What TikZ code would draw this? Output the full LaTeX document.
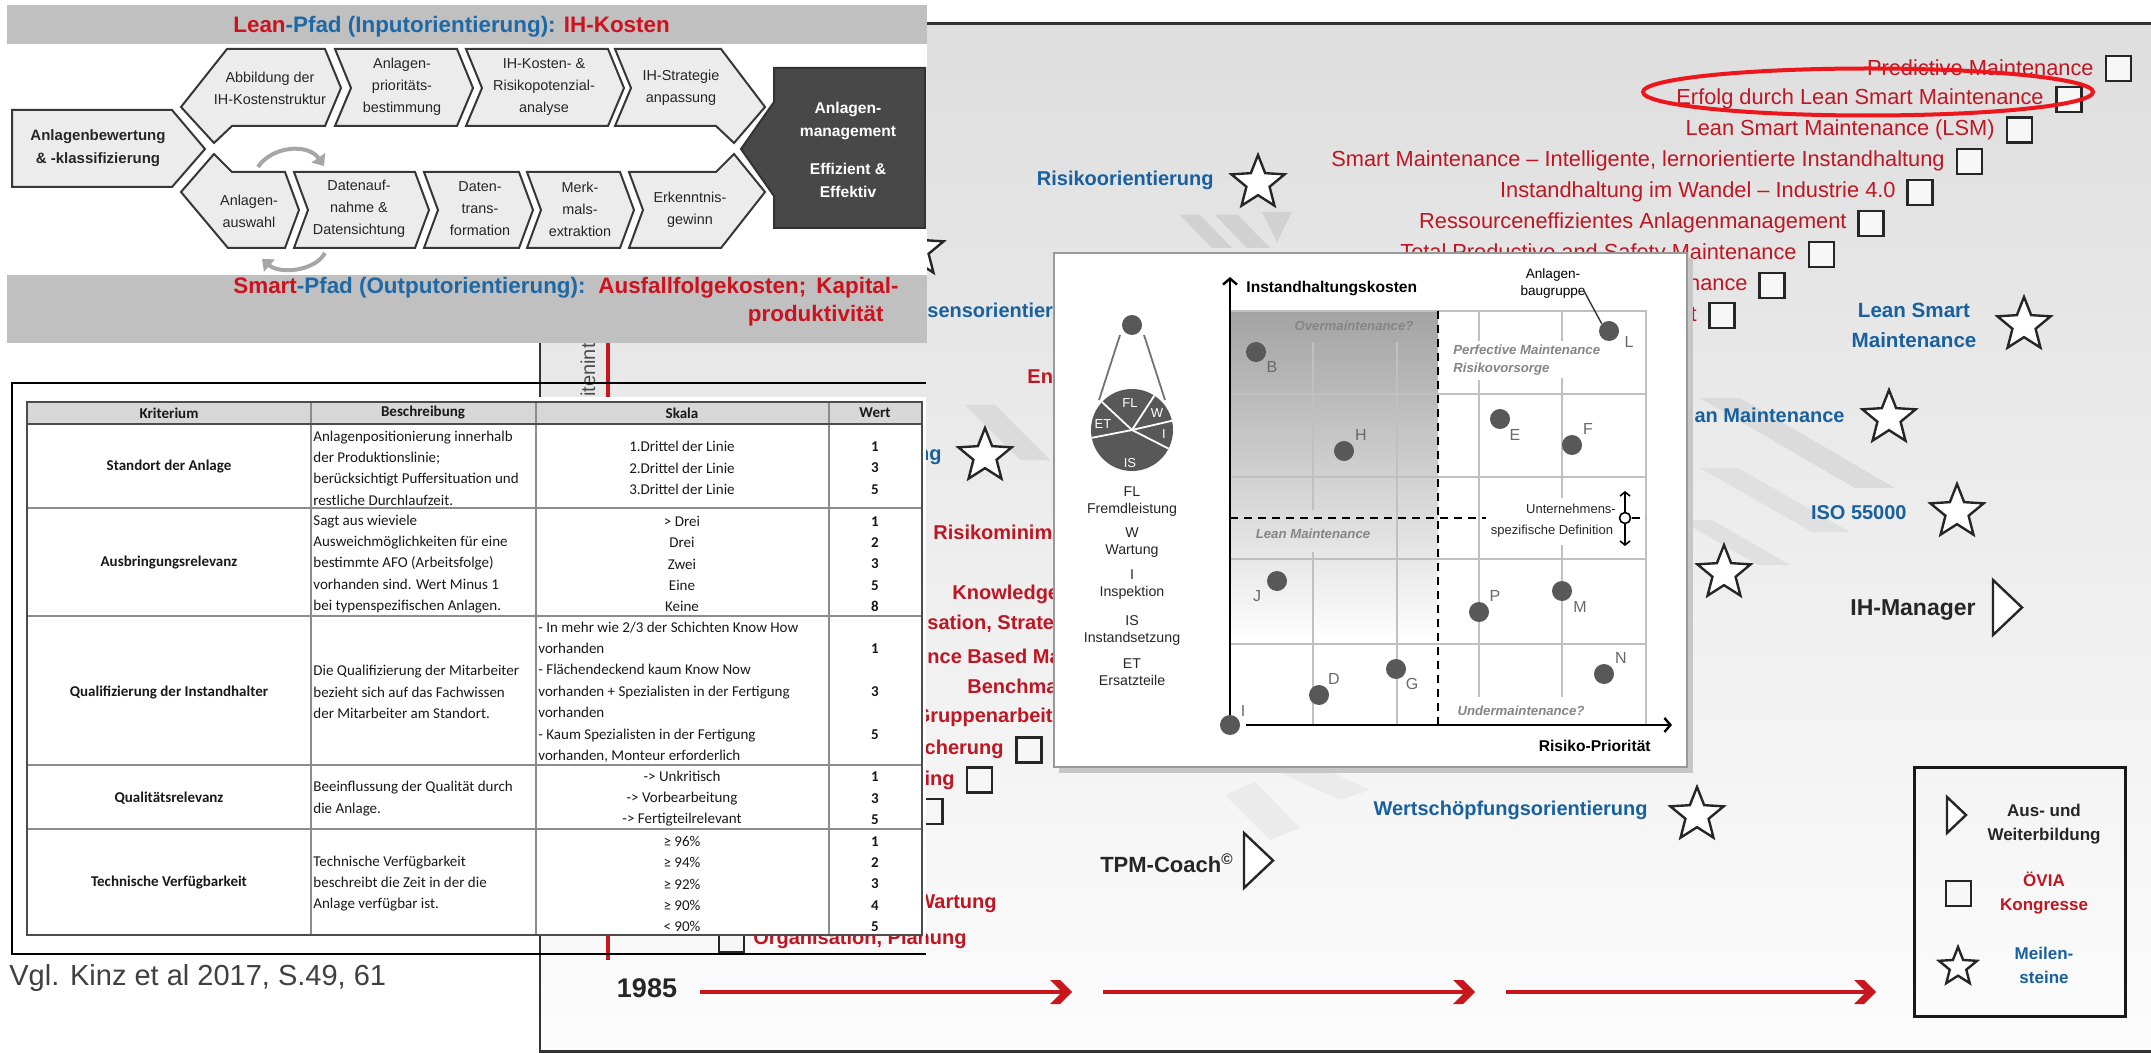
\documentclass[tikz,border=0pt]{standalone}
\usepackage{fontspec}
\setmainfont{Liberation Sans}
\newfontfamily\calib{Carlito}
\usetikzlibrary{shapes.geometric,arrows.meta,calc}

\newcommand{\setfs}[2]{\fontsize{#1}{#2}\selectfont}

\definecolor{redT}{RGB}{190,22,34}
\definecolor{blueT}{RGB}{24,96,158}
\definecolor{bandR}{RGB}{205,18,30}
\definecolor{bandB}{RGB}{30,105,165}
\definecolor{bandgray}{RGB}{192,192,192}
\definecolor{chevfill}{RGB}{236,236,236}
\definecolor{chevline}{RGB}{55,55,55}
\definecolor{darkbox}{RGB}{72,72,72}
\definecolor{dotgray}{RGB}{88,88,88}
\definecolor{tline}{RGB}{200,22,28}
\definecolor{ringred}{RGB}{236,22,28}
\definecolor{tabhead}{RGB}{215,215,215}
\definecolor{gridgray}{RGB}{192,192,192}
\definecolor{labgray}{RGB}{105,105,105}

\tikzset{
  chevbox/.style={fill=chevfill,draw=chevline,line width=1pt,line join=miter},
  chevtxt/.style={font=\setfs{7.2}{11},text=black!85,align=center,inner sep=0pt},
  darktxt/.style={font=\bfseries\setfs{7.8}{11.5},text=white,align=center,inner sep=0pt},
  cyclearrow/.style={draw=black!35,line width=2pt,-{Triangle[length=5pt,width=8pt]}},
  tabtxt/.style={font=\calib\setfs{7.5}{10.7},inner sep=0pt,text=black!90},
  tabbold/.style={font=\calib\bfseries\setfs{7.5}{10.7},inner sep=0pt,text=black!90},
  rlist/.style={text=redT,font=\setfs{10.9}{13},anchor=east,inner sep=0pt},
  llist/.style={text=redT,font=\bfseries\setfs{10}{12},inner sep=0pt},
  blist/.style={text=blueT,font=\bfseries\setfs{10}{12},inner sep=0pt},
  ovbox/.style={draw=black!85,fill=black!3,line width=1.2pt,minimum size=12.5pt,inner sep=0pt},
  mstar/.style={star,star points=5,star point ratio=2.3,draw=black!85,fill=white,line width=1.2pt,minimum size=28pt,inner sep=0pt},
  course/.style={draw=black!85,fill=white,line width=1.2pt,line join=miter},
  cdot/.style={circle,fill=dotgray,minimum size=10pt,inner sep=0pt},
  dlab/.style={text=labgray,font=\setfs{8}{9.6},inner sep=0pt},
  zone/.style={text=black!48,font=\bfseries\itshape\setfs{6.6}{9},inner sep=0pt},
  pielab/.style={text=white,font=\setfs{6.5}{8},inner sep=0pt},
  keytxt/.style={text=black!85,font=\setfs{7.1}{8.5},align=center,inner sep=0pt},
  gline/.style={draw=gridgray,line width=0.7pt},
  axisline/.style={line width=1.2pt,-{Straight Barb[length=3pt,width=7pt]}},
  zdash/.style={line width=1pt,dash pattern=on 4pt off 3pt},
  legtxt/.style={font=\bfseries\setfs{8.5}{12},align=center,inner sep=0pt},
  barbhead/.pic={\fill[tline] (-22,-12) -- (-12,-12) -- (0,0) -- (-12,12) -- (-22,12) -- (-10,0) -- cycle;}
}

\begin{document}
\begin{tikzpicture}[x=0.5pt,y=-0.5pt]
\useasboundingbox (0,0) rectangle (2151,1053);
\fill[white] (0,0) rectangle (2151,1053);

% ================= slide background =================
\shade[top color=black!13,middle color=black!5,bottom color=black!1] (540,24) rectangle (2151,1053);
% faint logo stripes, a shade darker than the ground they lie on
\fill[black!18] (1180,215) -- (1200,215) -- (1232,248) -- (1212,248) -- cycle;
\fill[black!18] (1215,215) -- (1238,215) -- (1270,248) -- (1247,248) -- cycle;
\fill[black!18] (1262,212) -- (1292,212) -- (1277,242) -- cycle;
\fill[black!14] (965,405) -- (995,405) -- (1050,460) -- (1020,460) -- cycle;
\fill[black!14] (1700,398) -- (1740,398) -- (1895,488) -- (1855,488) -- cycle;
\fill[black!12] (1700,468) -- (1738,468) -- (1850,532) -- (1812,532) -- cycle;
\fill[black!12] (1680,520) -- (1712,520) -- (1790,565) -- (1758,565) -- cycle;
\fill[black!8] (1225,795) -- (1255,782) -- (1300,828) -- (1270,840) -- cycle;
\fill[black!8] (1270,768) -- (1300,758) -- (1370,790) -- (1340,800) -- cycle;
\draw[line width=1.5pt,black!80] (540,24) -- (2151,24);
\draw[line width=1.5pt,black!80] (540,1051) -- (2151,1051);
\draw[line width=1pt,black!80] (540,24) -- (540,1053);

% rotated axis caption fragment
\node[rotate=90,font=\setfs{10}{12},text=black!70,inner sep=0pt] (vcap) at (588,370) {itenint};

% timeline
\coordinate (tvt) at (608,300);
\coordinate (tvb) at (608,960);
\draw[tline,line width=1.8pt] (tvt) -- (tvb);
\node[font=\bfseries\setfs{13.5}{16},text=black!85,inner sep=0pt] (yr) at (647,988) {1985};
\coordinate (a1s) at (700,992);  \coordinate (a1e) at (1072,992);
\coordinate (a2s) at (1103,992); \coordinate (a2e) at (1475,992);
\coordinate (a3s) at (1506,992); \coordinate (a3e) at (1876,992);
\foreach \s/\e in {a1s/a1e,a2s/a2e,a3s/a3e}{
  \draw[tline,line width=1.8pt] (\s) -- ([xshift=-5pt]\e);
  \pic at (\e) {barbhead};
}

% ---------------- congresses (right list) ----------------
\node[rlist] (r1) at (2094,68) {Predictive Maintenance};
\node[ovbox] (b1) at (2118.5,68.5) {};
\node[rlist] (r2) at (2044,99) {Erfolg durch Lean Smart Maintenance};
\node[ovbox] (b2) at (2069,99.5) {};
\node[rlist] (r3) at (1995,130) {Lean Smart Maintenance (LSM)};
\node[ovbox] (b3) at (2019.5,130) {};
\node[rlist] (r4) at (1945,161) {Smart Maintenance – Intelligente, lernorientierte Instandhaltung};
\node[ovbox] (b4) at (1969.5,161.5) {};
\node[rlist] (r5) at (1896,192) {Instandhaltung im Wandel – Industrie 4.0};
\node[ovbox] (b5) at (1920,192.5) {};
\node[rlist] (r6) at (1847,223) {Ressourceneffizientes Anlagenmanagement};
\node[ovbox] (b6) at (1871,223.5) {};
\node[rlist] (r7) at (1797,254) {Total Productive and Safety Maintenance};
\node[ovbox] (b7) at (1821.5,254.5) {};
\node[rlist] (r8) at (1748,285) {nance};
\node[ovbox] (b8) at (1772,285.5) {};
\node[rlist] (r9) at (1697,315) {t};
\node[ovbox] (b9) at (1722,315.5) {};
\draw[ringred,line width=2pt] (1868,92) ellipse[x radius=225,y radius=23.5];

% ---------------- milestones ----------------
\node[blist,anchor=east] (m1) at (1214,180) {Risikoorientierung};
\node[mstar] (s1) at (1258,183) {};
\node[blist,align=center,font=\bfseries\setfs{10.3}{15}] (m2) at (1914,325) {Lean Smart\\Maintenance};
\node[mstar] (s2) at (2024,325) {};
\node[blist,anchor=east] (m3) at (1845,415) {an Maintenance};
\node[mstar] (s3) at (1889,418) {};
\node[blist,anchor=east] (m4) at (1907,513) {ISO 55000};
\node[mstar] (s4) at (1957,512) {};
\node[mstar] (s5) at (1724,573) {};
\node[blist,anchor=east] (m5) at (1648,810) {Wertschöpfungsorientierung};
\node[mstar] (s6) at (1697,815) {};
\node[mstar] (s0) at (917,250) {};

% ---------------- training ----------------
\node[anchor=east,font=\bfseries\setfs{11.5}{13},text=black!85,inner sep=0pt] (c1) at (1976,610) {IH-Manager};
\draw[course] (1993,580) -- (2022,607.5) -- (1993,635) -- cycle;
\node[anchor=east,font=\bfseries\setfs{11}{13},text=black!85,inner sep=0pt] (c2) at (1234,863) {TPM-Coach\textsuperscript{©}};
\draw[course] (1244,833) -- (1273,860.5) -- (1244,888) -- cycle;

% ---------------- left part of the time line ----------------
\node[blist,anchor=west] (m6) at (927,310) {sensorientier};
\node[llist,anchor=west] (l1) at (1027,377) {Ent};
\node[blist,anchor=east] (m7) at (942,457) {ng};
\node[mstar] (s7) at (985,456) {};
\node[llist,anchor=west] (l2) at (933,532) {Risikominim};
\node[llist,anchor=west] (l3) at (952,594) {Knowledge};
\node[llist,anchor=west] (l4) at (927,624) {sation, Strate};
\node[llist,anchor=west] (l5) at (927,656) {nce Based Ma};
\node[llist,anchor=west] (l6) at (967,686) {Benchma};
\node[llist,anchor=east] (l7) at (1053,717) {Gruppenarbeit};
\node[llist,anchor=east] (l8) at (1004,749) {cherung};
\node[ovbox] (b10) at (1029,750) {};
\node[llist,anchor=east] (l9) at (955,780) {ing};
\node[ovbox] (b11) at (979.5,780) {};
\node[ovbox] (b12) at (930,811.5) {};
\node[llist,anchor=east] (l10) at (997,904) {Wartung};
\node[llist,anchor=east] (l11) at (967,939) {Organisation, Planung};
\node[ovbox] (b13) at (731.5,940) {};

% ---------------- legend ----------------
\draw[line width=1.5pt,black!90] (1914,767) rectangle (2125,1016);
\draw[course] (1947,797) -- (1966,815) -- (1947,833) -- cycle;
\node[legtxt,text=black!85] (lg1) at (2044,824) {Aus- und\\Weiterbildung};
\node[ovbox] (lgb) at (1958.5,893.5) {};
\node[legtxt,text=redT] (lg2) at (2044,893) {ÖVIA\\Kongresse};
\node[mstar,minimum size=20pt] (lgs) at (1958,967) {};
\node[legtxt,text=blueT] (lg3) at (2044,965) {Meilen-\\steine};

% ================= portfolio chart =================
\fill[black!22] (1059,258) rectangle (1693,773);
\draw[fill=white,draw=black!40,line width=1pt] (1054,253) rectangle (1687,767);
\shade[top color=black!36,bottom color=white] (1230,311) rectangle (1438,644);
\draw[gline] (1230,311) -- (1646,311) -- (1646,725);
\foreach \yy in {394,477,559,644} \draw[gline] (1230,\yy) -- (1646,\yy);
\draw[gline] (1313,342) -- (1313,510) (1313,552) -- (1313,725);
\draw[gline] (1397,342) -- (1397,725);
\draw[gline] (1479,311) -- (1479,341) (1479,380) -- (1479,697);
\draw[gline] (1562,311) -- (1562,341) (1562,378) -- (1562,498) (1562,545) -- (1562,697);
\draw[zdash] (1438,311) -- (1438,725);
\draw[zdash] (1230,518) -- (1486,518) (1632,518) -- (1646,518);

\coordinate (ax0) at (1230,727); \coordinate (axy) at (1230,277);
\coordinate (axx0) at (1246,725); \coordinate (axx) at (1672,725);
\draw[axisline] (ax0) -- (axy);
\draw[axisline] (axx0) -- (axx);
\node[font=\bfseries\setfs{7.8}{9},anchor=west,inner sep=0pt] (ylab) at (1246,289) {Instandhaltungskosten};
\node[font=\bfseries\setfs{7.8}{9},anchor=east,inner sep=0pt] (xlab) at (1651,746) {Risiko-Priorität};

\node[zone] (z1) at (1354,326) {Overmaintenance?};
\node[zone,anchor=west,align=left] (z2) at (1453,360) {Perfective Maintenance\\Risikovorsorge};
\node[zone] (z3) at (1313,534) {Lean Maintenance};
\node[zone] (z4) at (1521,711) {Undermaintenance?};
\node[font=\setfs{6.5}{8},text=black!85,inner sep=0pt] (u1) at (1571,509) {Unternehmens-};
\node[font=\setfs{6.5}{8},text=black!85,inner sep=0pt] (u2) at (1552,531) {spezifische Definition};
\coordinate (da1) at (1625,491); \coordinate (da2) at (1625,546);
\draw[line width=0.8pt,{Straight Barb[length=2pt,width=5pt]}-{Straight Barb[length=2pt,width=5pt]}] (da1) -- (da2);
\node[circle,draw,fill=white,line width=0.8pt,minimum size=5.5pt,inner sep=0pt] (dc) at (1625,518) {};

\foreach \n/\px/\py/\lx/\ly in {B/1256/352/1272/367, H/1344/451/1361/435, L/1609/331/1629/342,
  E/1500/419/1515/435, F/1572/445/1588/429, J/1277/581/1257/596, P/1479/612/1495/596,
  M/1562/591/1580/607, D/1319/695/1334/679, G/1396/669/1412/684, N/1604/674/1621/658,
  I/1230/725/1243/711}{
  \node[cdot] (d\n) at (\px,\py) {};
  \node[dlab] (t\n) at (\lx,\ly) {\n};
}
\node[font=\setfs{6.8}{8.5},align=center,inner sep=0pt] (bg) at (1553,283) {Anlagen-\\baugruppe};
\coordinate (bgl) at (1584,291);
\draw[line width=0.7pt,black!80] (bgl) -- (dL.north west);

% cost breakdown pie
\node[cdot] (ptop) at (1132,325) {};
\draw[black!55,line width=0.9pt] (1120,335) -- (1099,400);
\draw[black!55,line width=0.9pt] (1144,335) -- (1165,400);
\coordinate (pc) at (1132,430);
\fill[dotgray] (pc) circle[radius=41];
\foreach \a in {137,57,13,-27,191} \draw[white,line width=0.9pt] (pc) -- ++(-\a:41);
\node[pielab] (pFL) at (1130,403) {FL};
\node[pielab] (pW) at (1157,413) {W};
\node[pielab] (pI) at (1164,434) {I};
\node[pielab] (pIS) at (1130,463) {IS};
\node[pielab] (pET) at (1103,424) {ET};
\node[keytxt] (k1) at (1132,501.5) {FL\\Fremdleistung};
\node[keytxt] (k2) at (1132,542.5) {W\\Wartung};
\node[keytxt] (k3) at (1132,584.5) {I\\Inspektion};
\node[keytxt] (k4) at (1132,630.5) {IS\\Instandsetzung};
\node[keytxt] (k5) at (1132,672) {ET\\Ersatzteile};

% ================= criteria table =================
\fill[white] (12,397) rectangle (926,936);
\draw[black,line width=0.6pt] (926,383) -- (12,383) -- (12,954) -- (926,954);
\fill[tabhead] (27,402) rectangle (922,424);
\draw[black!45,line width=0.6pt] (311,402) -- (311,935) (536,402) -- (536,935) (829,402) -- (829,935);
\foreach \yy in {508,616,765,829} \draw[black!45,line width=0.9pt] (27,\yy) -- (922,\yy);
\draw[black!70,line width=1.2pt] (27,424) -- (922,424);
\draw[black!70,line width=1.3pt] (27,402) rectangle (922,935);

\node[tabbold] (h1) at (169,413) {Kriterium};
\node[tabbold] (h2) at (423,413) {Beschreibung};
\node[tabbold] (h3) at (682,413) {Skala};
\node[tabbold] (h4) at (875,413) {Wert};

\node[tabbold] (k1a) at (169,467) {Standort der Anlage};
\node[tabtxt,anchor=west,align=left] (d1a) at (313,468) {Anlagenpositionierung innerhalb\\der Produktionslinie;\\berücksichtigt Puffersituation und\\restliche Durchlaufzeit.};
\node[tabtxt,align=center] (s1a) at (682,468) {1.Drittel der Linie\\2.Drittel der Linie\\3.Drittel der Linie};
\node[tabbold,align=center] (w1a) at (875,468) {1\\3\\5};

\node[tabbold] (k2a) at (169,563) {Ausbringungsrelevanz};
\node[tabtxt,anchor=west,align=left] (d2a) at (313,564) {Sagt aus wieviele\\Ausweichmöglichkeiten für eine\\bestimmte AFO (Arbeitsfolge)\\vorhanden sind. Wert Minus 1\\bei typenspezifischen Anlagen.};
\node[tabtxt,align=center] (s2a) at (682,564) {> Drei\\Drei\\Zwei\\Eine\\Keine};
\node[tabbold,align=center] (w2a) at (875,564) {1\\2\\3\\5\\8};

\node[tabbold] (k3a) at (169,692) {Qualifizierung der Instandhalter};
\node[tabtxt,anchor=west,align=left] (d3a) at (313,692) {Die Qualifizierung der Mitarbeiter\\bezieht sich auf das Fachwissen\\der Mitarbeiter am Standort.};
\node[tabtxt,anchor=west,align=left] (s3a) at (538,692) {- In mehr wie 2/3 der Schichten Know How\\vorhanden\\- Flächendeckend kaum Know Now\\vorhanden + Spezialisten in der Fertigung\\vorhanden\\- Kaum Spezialisten in der Fertigung\\vorhanden, Monteur erforderlich};
\node[tabbold] (w3a) at (875,649) {1};
\node[tabbold] (w3b) at (875,692) {3};
\node[tabbold] (w3c) at (875,735) {5};

\node[tabbold] (k4a) at (169,798) {Qualitätsrelevanz};
\node[tabtxt,anchor=west,align=left] (d4a) at (313,798.5) {Beeinflussung der Qualität durch\\die Anlage.};
\node[tabtxt,align=center] (s4a) at (682,798.5) {-> Unkritisch\\-> Vorbearbeitung\\-> Fertigteilrelevant};
\node[tabbold,align=center] (w4a) at (875,798.5) {1\\3\\5};

\node[tabbold] (k5a) at (169,883) {Technische Verfügbarkeit};
\node[tabtxt,anchor=west,align=left] (d5a) at (313,883.5) {Technische Verfügbarkeit\\beschreibt die Zeit in der die\\Anlage verfügbar ist.};
\node[tabtxt,align=center] (s5a) at (682,884) {≥ 96\%\\≥ 94\%\\≥ 92\%\\≥ 90\%\\< 90\%};
\node[tabbold,align=center] (w5a) at (875,884) {1\\2\\3\\4\\5};

\node[anchor=west,font=\setfs{14.5}{17},text=black!75,inner sep=0pt] (src) at (9,978) {Vgl. Kinz et al 2017, S.49, 61};

% ================= process panel =================
\fill[white] (0,0) rectangle (927,343);
\fill[bandgray] (7,5) rectangle (927,44);
\fill[bandgray] (7,275) rectangle (927,343);
\node[anchor=west,font=\bfseries\setfs{11.2}{13},inner sep=0pt] (ttl) at (233,27)
  {\textcolor{bandR}{Lean}\textcolor{bandB}{-Pfad (Inputorientierung):} \textcolor{bandR}{IH-Kosten}};
\node[anchor=west,font=\bfseries\setfs{11.2}{13},inner sep=0pt] (sp1) at (233,288)
  {\textcolor{bandR}{Smart}\textcolor{bandB}{-Pfad (Outputorientierung):}};
\node[anchor=west,font=\bfseries\setfs{11.2}{13},text=bandR,inner sep=0pt] (sp2) at (598,288) {Ausfallfolgekosten;};
\node[anchor=east,font=\bfseries\setfs{11.2}{13},text=bandR,inner sep=0pt] (sp3) at (899,288) {Kapital-};
\node[anchor=east,font=\bfseries\setfs{11.2}{13},text=bandR,inner sep=0pt] (sp4) at (884,316) {produktivität};

% target block
\fill[darkbox,draw=black!80,line width=1pt] (774,68) -- (925,68) -- (925,228) -- (774,228) -- (774,196) -- (741,149) -- (774,102) -- cycle;
\node[darktxt] (am1) at (848,121.5) {Anlagen-\\management};
\node[darktxt] (am2) at (848,180) {Effizient \&\\Effektiv};

% starting block
\draw[chevbox] (12,110) -- (172,110) -- (205,149) -- (172,187) -- (12,187) -- cycle;
\node[chevtxt,font=\bfseries\setfs{7.5}{11.5}] (ab) at (98,148) {Anlagenbewertung\\\& -klassifizierung};

% lean path
\draw[chevbox] (227,49) -- (325,49) -- (341,88) -- (325,126) -- (232,126) -- (214,143) -- (181,107) -- cycle;
\draw[chevbox] (335,49) -- (457,49) -- (473,88) -- (457,126) -- (335,126) -- (351,88) -- cycle;
\draw[chevbox] (466,49) -- (608,49) -- (624,88) -- (608,126) -- (466,126) -- (482,88) -- cycle;
\draw[chevbox] (615,49) -- (721,49) -- (765,107) -- (734,143) -- (716,126) -- (615,126) -- (631,88) -- cycle;
\node[chevtxt] (u1t) at (270,88) {Abbildung der\\IH-Kostenstruktur};
\node[chevtxt] (u2t) at (402,87) {Anlagen-\\prioritäts-\\bestimmung};
\node[chevtxt] (u3t) at (544,87) {IH-Kosten- \&\\Risikopotenzial-\\analyse};
\node[chevtxt] (u4t) at (681,88) {IH-Strategie\\anpassung};

% smart path
\draw[chevbox] (181,192) -- (214,154) -- (232,172) -- (285,172) -- (299,210) -- (285,248) -- (228,248) -- cycle;
\draw[chevbox] (294,172) -- (415,172) -- (429,210) -- (415,248) -- (294,248) -- (308,210) -- cycle;
\draw[chevbox] (424,172) -- (519,172) -- (533,210) -- (519,248) -- (424,248) -- (438,210) -- cycle;
\draw[chevbox] (527,172) -- (620,172) -- (634,210) -- (620,248) -- (527,248) -- (541,210) -- cycle;
\draw[chevbox] (629,172) -- (716,172) -- (734,154) -- (765,192) -- (721,248) -- (629,248) -- (643,210) -- cycle;
\node[chevtxt] (l1t) at (249,211) {Anlagen-\\auswahl};
\node[chevtxt] (l2t) at (359,209) {Datenauf-\\nahme \&\\Datensichtung};
\node[chevtxt] (l3t) at (480,209) {Daten-\\trans-\\formation};
\node[chevtxt] (l4t) at (580,209) {Merk-\\mals-\\extraktion};
\node[chevtxt] (l5t) at (690,210) {Erkenntnis-\\gewinn};

% iteration arrows
\coordinate (c1s) at (258,167); \coordinate (c1e) at (324,166);
\draw[cyclearrow] (c1s) .. controls (272,146) and (308,143) .. (c1e);
\coordinate (c2s) at (325,253); \coordinate (c2e) at (262,259);
\draw[cyclearrow] (c2s) .. controls (314,272) and (279,274) .. (c2e);

\end{tikzpicture}
\end{document}
